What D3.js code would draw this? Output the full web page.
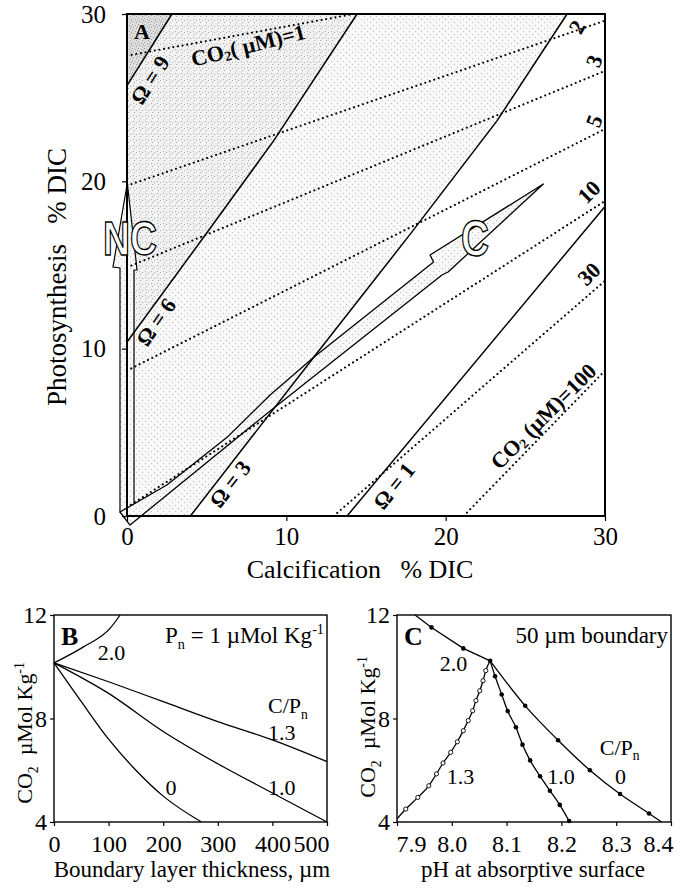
<!DOCTYPE html>
<html>
<head>
<meta charset="utf-8">
<script src="https://cdn.jsdelivr.net/npm/d3@7"></script>
<style>
body{margin:0;background:#fff;}
svg text{fill:#000;white-space:pre;}
</style>
</head>
<body>
<svg id="chart" width="689" height="895"></svg>
<script>
// ---- panel A : calcification vs photosynthesis (% DIC) ----
let omega9 = [[0,25.72],[2.82,30]]
let omega6 = [[0,10.4],[4.81,16.66],[9.21,22.43],[14.44,30]]
let omega3 = [[3.98,0],[11.72,9.49],[17.79,16.86],[23.23,23.63],[27.62,30]]
let omega1 = [[13.81,0],[30,18.5]]

let co2_1 = [[0,27.51],[14.23,30]]
let co2_2 = [[0,19.74],[30,29.6]]
let co2_3 = [[0,14.86],[30,26.6]]
let co2_5 = [[0,8.69],[30,23.13]]
let co2_10 = [[0,0.52],[30,18.83]]
let co2_30 = [[12.97,0],[30,14.06]]
let co2_100 = [[21.13,0],[30,8.69]]

let cArrow = [[-0.44,0.24],[2.5,1.85],[6.28,4.7],[9.0,7.25],[11.74,9.5],[19.24,15.18],[19.02,15.6],[26.13,19.84],[20.15,14.58],[19.77,14.4],[8.98,6.28],[0.19,-0.54]]
let ncArrow = [[-0.44,0.24],[-0.44,14.82],[-0.88,14.88],[0.02,19.9],[0.63,14.7],[0.44,14.7],[0.44,0.24]]

let ticksA = [0,10,20,30]

// ---- panel B : CO2 vs boundary layer thickness ----
let ticksBx = [0,100,200,300,400,500]
let ticksBy = [4,8,12]
let b20 = [[0,10.15],[54,10.77],[103,11.49],[121,12]]
let b13 = [[0,10.15],[100,9.42],[200,8.65],[300,7.88],[400,7.17],[500,6.33]]
let b10 = [[0,10.15],[100,8.97],[200,7.5],[300,6.25],[400,5.12],[500,4.0]]
let b0 = [[0,10.15],[50,8.65],[100,7.2],[150,6.0],[200,5.0],[270,4.0]]

// ---- panel C : CO2 vs pH at absorptive surface ----
let ticksCx = [7.9,8.0,8.1,8.2,8.3,8.4]
let ticksCy = [4,8,12]
let c20 = [[7.933,12.0],[7.963,11.52],[8.021,10.71],[8.07,10.23]]
let c20dots = [[7.963,11.52],[8.021,10.71],[8.07,10.23]]
let c0 = [[8.07,10.23],[8.134,8.49],[8.194,7.16],[8.252,6.0],[8.307,5.08],[8.36,4.33],[8.383,4.0]]
let c0dots = [[8.134,8.49],[8.194,7.16],[8.252,6.0],[8.307,5.08],[8.36,4.33]]
let c10 = [[8.07,10.23],[8.079,9.63],[8.091,8.93],[8.102,8.29],[8.117,7.66],[8.129,6.99],[8.143,6.38],[8.161,5.77],[8.179,5.21],[8.197,4.66],[8.214,4.04]]
let c13 = [[7.9,4.12],[7.916,4.5],[7.938,4.95],[7.958,5.4],[7.972,5.86],[7.984,6.28],[7.998,6.69],[8.01,7.1],[8.021,7.53],[8.03,7.92],[8.038,8.3],[8.044,8.69],[8.051,9.07],[8.057,9.46],[8.062,9.85],[8.07,10.23]]

let serif = '"Liberation Serif","Times New Roman",Times,serif'
let svg = d3.select('#chart')
let defs = svg.append('defs')

let makeStipple = (id, base, dotColor, dots) => {
    let p = defs.append('pattern').attr('id', id).attr('width', 6).attr('height', 6)
                .attr('patternUnits', 'userSpaceOnUse')
    p.append('rect').attr('width', 6).attr('height', 6).attr('fill', base)
    dots.forEach(d => {
        p.append('rect').attr('x', d[0]).attr('y', d[1]).attr('width', 1).attr('height', 1).attr('fill', dotColor)
    })
}
makeStipple('light', '#f8f8f8', '#bdbdbd', [[1,1],[4,4]])
makeStipple('mid', '#f1f1f1', '#ababab', [[1,1],[4,2],[2,4]])
makeStipple('dark', '#dedede', '#9a9a9a', [[0,0],[3,1],[1,3],[4,4],[5,2]])

// rich text helper for sub/superscripts
let rich = (sel, parts, size) => {
    let shift = 0
    sel.attr('font-size', size)
    parts.forEach(p => {
        let target = p.sub ? size*0.25 : (p.sup ? -size*0.38 : 0)
        sel.append('tspan')
           .attr('dy', target - shift)
           .attr('font-size', (p.sub || p.sup) ? size*0.62 : size)
           .text(p.t)
        shift = target
    })
}

// ================= panel A =================
let xA = d3.scaleLinear().domain([0,30]).range([127,605])
let yA = d3.scaleLinear().domain([0,30]).range([516,14])
let lineA = d3.line().x(d => xA(d[0])).y(d => yA(d[1]))

let gA = svg.append('g')
gA.append('path').attr('d', lineA([...omega3, [0,30], [0,0]])).attr('fill', 'url(#light)')
gA.append('path').attr('d', lineA([...omega6, [0,30], [0,0]])).attr('fill', 'url(#mid)')
gA.append('path').attr('d', lineA([...omega9, [0,30]])).attr('fill', 'url(#dark)')

// arrows
gA.append('path').attr('d', lineA(ncArrow) + 'Z').attr('fill', 'url(#light)')
  .attr('stroke', '#000').attr('stroke-width', 1.2)
gA.append('path').attr('d', lineA(cArrow) + 'Z').attr('fill', 'url(#light)')
  .attr('stroke', '#000').attr('stroke-width', 1.3).attr('stroke-linejoin', 'round')

// CO2 dotted lines
let co2All = [co2_1, co2_2, co2_3, co2_5, co2_10, co2_30, co2_100]
gA.selectAll('.co2')
  .data(co2All)
  .enter()
  .append('path')
  .attr('class', 'co2')
  .attr('d', d => lineA(d))
  .attr('fill', 'none')
  .attr('stroke', '#000')
  .attr('stroke-width', 2.1)
  .attr('stroke-linecap', 'round')
  .attr('stroke-dasharray', '0.01 4.7')

// saturation (omega) lines
gA.selectAll('.omega')
  .data([omega9, omega6, omega3, omega1])
  .enter()
  .append('path')
  .attr('class', 'omega')
  .attr('d', d => lineA(d))
  .attr('fill', 'none')
  .attr('stroke', '#000')
  .attr('stroke-width', 1.5)

// frame
gA.append('rect').attr('x', xA(0)).attr('y', yA(30)).attr('width', xA(30)-xA(0)).attr('height', yA(0)-yA(30))
  .attr('fill', 'none').attr('stroke', '#000').attr('stroke-width', 2)

// axes
let axAx = gA.append('g').attr('transform', `translate(0,${yA(0)})`)
  .call(d3.axisBottom(xA).tickValues(ticksA).tickSize(5).tickPadding(6))
axAx.attr('font-size', 25)
let axAy = gA.append('g').attr('transform', `translate(${xA(0)},0)`)
  .call(d3.axisLeft(yA).tickValues(ticksA).tickSize(5).tickPadding(16))
axAy.attr('font-size', 25)
;[axAx, axAy].forEach(a => { a.select('.domain').remove(); a.selectAll('line').attr('stroke-width', 1.2) })

gA.append('text').attr('x', 360).attr('y', 578).attr('text-anchor', 'middle').attr('font-size', 26)
  .text('Calcification   % DIC')
gA.append('text').attr('transform', 'translate(66,277) rotate(-90)').attr('text-anchor', 'middle').attr('font-size', 27)
  .text('Photosynthesis   % DIC')

// labels in A
gA.append('text').attr('x', xA(0)+7).attr('y', yA(30)+25).attr('font-size', 22).attr('font-weight', 'bold').text('A')

let omegaLabels = [
    {t:'Ω = 9', x:1.44, y:26.06, r:-57},
    {t:'Ω = 6', x:1.82, y:11.59, r:-55},
    {t:'Ω = 3', x:6.47, y:1.91, r:-52},
    {t:'Ω = 1', x:16.76, y:1.79, r:-51}
]
gA.selectAll('.olab')
  .data(omegaLabels)
  .enter()
  .append('text')
  .attr('class', 'olab')
  .attr('transform', d => `translate(${xA(d.x)},${yA(d.y)}) rotate(${d.r})`)
  .attr('text-anchor', 'middle')
  .attr('dominant-baseline', 'central')
  .attr('font-size', 22)
  .attr('font-weight', 'bold')
  .text(d => d.t)

let co2Labels = [
    {t:'2', x:28.24, y:29.22, r:-60},
    {t:'3', x:29.31, y:27.19, r:-70},
    {t:'5', x:29.31, y:23.6, r:-70},
    {t:'10', x:29.0, y:19.36, r:-45},
    {t:'30', x:29.0, y:14.46, r:-45}
]
gA.selectAll('.clab')
  .data(co2Labels)
  .enter()
  .append('text')
  .attr('class', 'clab')
  .attr('transform', d => `translate(${xA(d.x)},${yA(d.y)}) rotate(${d.r})`)
  .attr('text-anchor', 'middle')
  .attr('dominant-baseline', 'central')
  .attr('font-size', 22)
  .attr('font-weight', 'bold')
  .text(d => d.t)

let t1 = gA.append('text').attr('transform', `translate(${xA(7.6)},${yA(28.15)}) rotate(-14)`)
  .attr('text-anchor', 'middle').attr('dominant-baseline', 'central').attr('font-weight', 'bold')
rich(t1, [{t:'CO'},{t:'2',sub:true},{t:'( µM)=1'}], 22)
let t100 = gA.append('text').attr('transform', `translate(${xA(26.11)},${yA(5.98)}) rotate(-45)`)
  .attr('text-anchor', 'middle').attr('dominant-baseline', 'central').attr('font-weight', 'bold')
rich(t100, [{t:'CO'},{t:'2',sub:true},{t:' (µM)=100'}], 22)

// outlined arrow letters
gA.append('text').attr('class', 'outline').attr('x', 130).attr('y', 255).attr('text-anchor', 'middle')
  .attr('font-weight', 'bold').attr('font-size', 48)
  .attr('textLength', 54).attr('lengthAdjust', 'spacingAndGlyphs')
  .style('fill', '#fff').attr('stroke', '#000').attr('stroke-width', 1.4)
  .text('NC')
gA.append('text').attr('class', 'outline').attr('x', 475).attr('y', 256).attr('text-anchor', 'middle')
  .attr('font-weight', 'bold').attr('font-size', 50)
  .attr('textLength', 28).attr('lengthAdjust', 'spacingAndGlyphs')
  .style('fill', '#fff').attr('stroke', '#000').attr('stroke-width', 1.4)
  .text('C')

// ================= panels B and C =================
let yBC = d3.scaleLinear().domain([4,12]).range([822,615])
let xB = d3.scaleLinear().domain([0,500]).range([54,327])
let xC = d3.scaleLinear().domain([7.9,8.4]).range([397,671])

let drawFrame = (g, x, xt, yt, fmt, pinFirst) => {
    g.append('rect').attr('x', x.range()[0]).attr('y', yBC.range()[1])
     .attr('width', x.range()[1]-x.range()[0]).attr('height', yBC.range()[0]-yBC.range()[1])
     .attr('fill', 'none').attr('stroke', '#000').attr('stroke-width', 1.4)
    let ax = g.append('g').attr('transform', `translate(0,${yBC.range()[0]})`)
      .call(d3.axisBottom(x).tickValues(xt).tickSize(4).tickPadding(9).tickFormat(fmt))
    let ay = g.append('g').attr('transform', `translate(${x.range()[0]},0)`)
      .call(d3.axisLeft(yBC).tickValues(yt).tickSize(4).tickPadding(3))
    ;[ax, ay].forEach(a => { a.attr('font-size', 24); a.select('.domain').remove(); a.selectAll('line').attr('stroke-width', 1.2) })
    // keep the end labels inside the frame, as in the original figure
    let labels = ax.selectAll('.tick text').nodes()
    d3.select(labels[labels.length-1]).attr('text-anchor', 'end').attr('x', 2)
    if (pinFirst) d3.select(labels[0]).attr('text-anchor', 'start').attr('x', -1)
}

// panel B
let gB = svg.append('g')
let lineB = d3.line().x(d => xB(d[0])).y(d => yBC(d[1])).curve(d3.curveMonotoneX)
gB.selectAll('.bline')
  .data([b20, b13, b10, b0])
  .enter()
  .append('path')
  .attr('class', 'bline')
  .attr('d', d => lineB(d))
  .attr('fill', 'none')
  .attr('stroke', '#000')
  .attr('stroke-width', 1.3)
drawFrame(gB, xB, ticksBx, ticksBy, d3.format('d'), false)

gB.append('text').attr('x', xB(0)+7).attr('y', 645).attr('font-size', 26).attr('font-weight', 'bold').text('B')
let pn = gB.append('text').attr('x', xB(500)-3).attr('y', 643).attr('text-anchor', 'end')
rich(pn, [{t:'P'},{t:'n',sub:true},{t:' = 1 µMol Kg'},{t:'-1',sup:true}], 23)
gB.append('text').attr('x', xB(80)).attr('y', yBC(10.25)).attr('font-size', 22).text('2.0')
let cpB = gB.append('text').attr('x', xB(392)).attr('y', yBC(8.2))
rich(cpB, [{t:'C/P'},{t:'n',sub:true}], 22)
gB.append('text').attr('x', xB(392)).attr('y', yBC(7.15)).attr('font-size', 22).text('1.3')
gB.append('text').attr('x', xB(204)).attr('y', yBC(5.05)).attr('font-size', 22).text('0')
gB.append('text').attr('x', xB(392)).attr('y', yBC(5.05)).attr('font-size', 22).text('1.0')

gB.append('text').attr('x', 192).attr('y', 877).attr('text-anchor', 'middle').attr('font-size', 23)
  .text('Boundary layer thickness, µm')
let ytB = gB.append('text').attr('transform', 'translate(32,733) rotate(-90)').attr('text-anchor', 'middle')
rich(ytB, [{t:'CO'},{t:'2',sub:true},{t:'  µMol Kg'},{t:'-1',sup:true}], 22)

// panel C
let gC = svg.append('g')
let lineC = d3.line().x(d => xC(d[0])).y(d => yBC(d[1])).curve(d3.curveMonotoneX)
let lineCs = d3.line().x(d => xC(d[0])).y(d => yBC(d[1]))
gC.append('path').attr('d', lineCs(c20)).attr('fill', 'none').attr('stroke', '#000').attr('stroke-width', 1.3)
gC.selectAll('.cline')
  .data([c0, c10, c13])
  .enter()
  .append('path')
  .attr('class', 'cline')
  .attr('d', d => lineC(d))
  .attr('fill', 'none')
  .attr('stroke', '#000')
  .attr('stroke-width', 1.3)

gC.selectAll('.fdot')
  .data([...c20dots, ...c0dots, ...c10.slice(1)])
  .enter()
  .append('circle')
  .attr('class', 'fdot')
  .attr('cx', d => xC(d[0]))
  .attr('cy', d => yBC(d[1]))
  .attr('r', 2.3)
  .attr('fill', '#000')
gC.selectAll('.odot')
  .data(c13.slice(1, -1))
  .enter()
  .append('circle')
  .attr('class', 'odot')
  .attr('cx', d => xC(d[0]))
  .attr('cy', d => yBC(d[1]))
  .attr('r', 2.1)
  .attr('fill', '#fff')
  .attr('stroke', '#000')
  .attr('stroke-width', 0.9)
drawFrame(gC, xC, ticksCx, ticksCy, d3.format('.1f'), true)

gC.append('text').attr('x', xC(7.9)+7).attr('y', 645).attr('font-size', 26).attr('font-weight', 'bold').text('C')
gC.append('text').attr('x', xC(8.4)-3).attr('y', 643).attr('text-anchor', 'end').attr('font-size', 23).text('50 µm boundary')
gC.append('text').attr('x', xC(7.978)).attr('y', yBC(9.83)).attr('font-size', 22).text('2.0')
let cpC = gC.append('text').attr('x', xC(8.27)).attr('y', yBC(6.6))
rich(cpC, [{t:'C/P'},{t:'n',sub:true}], 22)
gC.append('text').attr('x', xC(7.991)).attr('y', yBC(5.47)).attr('font-size', 22).text('1.3')
gC.append('text').attr('x', xC(8.174)).attr('y', yBC(5.47)).attr('font-size', 22).text('1.0')
gC.append('text').attr('x', xC(8.298)).attr('y', yBC(5.47)).attr('font-size', 22).text('0')

gC.append('text').attr('x', 533).attr('y', 877).attr('text-anchor', 'middle').attr('font-size', 23)
  .text('pH at absorptive surface')
let ytC = gC.append('text').attr('transform', 'translate(375,727) rotate(-90)').attr('text-anchor', 'middle')
rich(ytC, [{t:'CO'},{t:'2',sub:true},{t:'  µMol Kg'},{t:'-1',sup:true}], 22)

// fonts: serif everywhere, sans for the outlined arrow letters
svg.selectAll('text').style('font-family', serif)
svg.selectAll('text.outline').style('font-family', '"Liberation Sans",Arial,sans-serif')
</script>
</body>
</html>
